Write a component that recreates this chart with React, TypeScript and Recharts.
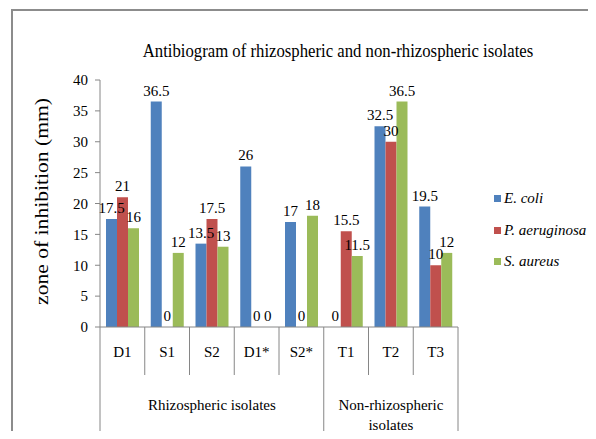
import { BarChart, Bar, XAxis, YAxis, LabelList } from "recharts";

const categories = ["D1", "S1", "S2", "D1*", "S2*", "T1", "T2", "T3"];
const eColi = [17.5, 36.5, 13.5, 26, 17, 0, 32.5, 19.5];
const pAeruginosa = [21, 0, 17.5, 0, 0, 15.5, 30, 10];
const sAureus = [16, 12, 13, 0, 18, 11.5, 36.5, 12];
const groups = [
  { lines: ["Rhizospheric isolates"], count: 5 },
  { lines: ["Non-rhizospheric", "isolates"], count: 3 },
];
const yTicks = [0, 5, 10, 15, 20, 25, 30, 35, 40];

const series = [
  { key: "ecoli", name: "E. coli", color: "#4F81BD" },
  { key: "paer", name: "P. aeruginosa", color: "#C0504D" },
  { key: "saur", name: "S. aureus", color: "#9BBB59" },
];

const data = categories.map((c, i) => ({
  name: c,
  ecoli: eColi[i],
  paer: pAeruginosa[i],
  saur: sAureus[i],
}));

const W = 596;
const H = 439;
const M = { top: 80, right: 138, bottom: 0, left: 0 };
const Y_W = 100;
const X_H = 112;
const PLOT_W = W - M.left - Y_W - M.right;
const AXIS_Y = H - M.bottom - X_H;
const FONT = "Liberation Serif";
const AXIS_COLOR = "#868686";

// category label + separator lines + group label under the first category of each group
function CategoryTick(props: any) {
  const { x, payload, index } = props;
  const bw = PLOT_W / categories.length;
  const left = x - bw / 2;
  let start = 0;
  let groupEl = null;
  let groupStart = false;
  for (const g of groups) {
    if (index === start) {
      groupStart = true;
      const cx = left + (g.count * bw) / 2;
      groupEl = (
        <text textAnchor="middle" fontFamily={FONT} fontSize={15} fill="#000">
          {g.lines.map((l, k) => (
            <tspan key={k} x={cx} y={AXIS_Y + 83 + k * 20}>
              {l}
            </tspan>
          ))}
        </text>
      );
    }
    start += g.count;
  }
  const last = index === categories.length - 1;
  return (
    <g>
      <line x1={left} x2={left} y1={AXIS_Y} y2={groupStart ? H : AXIS_Y + 48} stroke={AXIS_COLOR} />
      {last && <line x1={left + bw} x2={left + bw} y1={AXIS_Y} y2={H} stroke={AXIS_COLOR} />}
      <text x={x} y={AXIS_Y + 30} textAnchor="middle" fontFamily={FONT} fontSize={15} fill="#000">
        {payload.value}
      </text>
      {groupEl}
    </g>
  );
}

function ValueLabel(props: any) {
  const { x, y, width, value } = props;
  if (x == null || y == null) return null;
  return (
    <text x={x + width / 2} y={y - 6} textAnchor="middle" fontFamily={FONT} fontSize={15} fill="#000">
      {value}
    </text>
  );
}

export default function App() {
  return (
    <div style={{ position: "relative", width: W, height: H, margin: -8, overflow: "hidden", background: "#fff" }}>
      <div
        style={{
          position: "absolute",
          left: 11,
          top: 9,
          width: 578,
          height: 440,
          border: "2px solid #8c8c8c",
        }}
      />
      <div
        style={{
          position: "absolute",
          left: 0,
          width: 676,
          top: 42,
          textAlign: "center",
          fontFamily: FONT,
          fontSize: 16,
          transform: "scale(1.045, 1.15)",
        }}
      >
        Antibiogram of rhizospheric and non-rhizospheric isolates
      </div>
      <div style={{ position: "absolute", left: 0, top: 0 }}>
        <BarChart width={W} height={H} data={data} margin={M} barGap={0} barSize={11}>
          <XAxis
            dataKey="name"
            interval={0}
            height={X_H}
            tickLine={false}
            axisLine={{ stroke: AXIS_COLOR }}
            tick={<CategoryTick />}
          />
          <YAxis
            width={Y_W}
            domain={[0, 40]}
            ticks={yTicks}
            interval={0}
            tickSize={5}
            tickMargin={7}
            tickLine={{ stroke: AXIS_COLOR }}
            axisLine={{ stroke: AXIS_COLOR }}
            tick={{ fill: "#000", fontFamily: FONT, fontSize: 15 }}
            label={{
              content: (p: any) => {
                const vb = p.viewBox;
                const cx = 42;
                const cy = vb.y + vb.height / 2 - 2;
                return (
                  <text
                    x={0}
                    y={0}
                    transform={`translate(${cx} ${cy}) rotate(-90) scale(1.2 1)`}
                    textAnchor="middle"
                    dominantBaseline="central"
                    fontFamily={FONT}
                    fontSize={18}
                    fill="#000"
                  >
                    zone of inhibition (mm)
                  </text>
                );
              },
            }}
          />
          {series.map((s) => (
            <Bar
              key={s.key}
              dataKey={s.key}
              name={s.name}
              fill={s.color}
              minPointSize={0.01}
              isAnimationActive={false}
            >
              <LabelList dataKey={s.key} content={<ValueLabel />} />
            </Bar>
          ))}
        </BarChart>
      </div>
      <div style={{ position: "absolute", left: 494, top: 183 }}>
        {series.map((s) => (
          <div key={s.key} style={{ display: "flex", alignItems: "center", height: 31.5 }}>
            <span style={{ width: 7, height: 7, background: s.color, marginRight: 3 }} />
            <span style={{ fontFamily: FONT, fontStyle: "italic", fontSize: 15 }}>{s.name}</span>
          </div>
        ))}
      </div>
    </div>
  );
}
